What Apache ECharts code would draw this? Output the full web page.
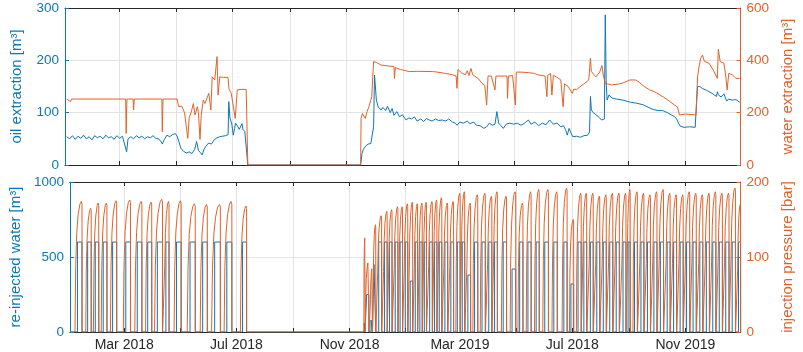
<!DOCTYPE html>
<html>
<head>
<meta charset="utf-8">
<script src="https://cdn.jsdelivr.net/npm/echarts@6/dist/echarts.min.js"></script>
<style>
  html, body { margin: 0; padding: 0; background: #fff; }
  #chart { width: 803px; height: 352px; }
</style>
</head>
<body>
<div id="chart"></div>
<script>
// x values are days counted from 2018-01-01
const tickDays = [59, 120, 181, 243, 304, 365, 424, 485, 546, 608, 669];
const labelDays = [59, 181, 304, 424, 546, 669];
const labelText = ['Mar 2018', 'Jul 2018', 'Nov 2018', 'Mar 2019', 'Jul 2018', 'Nov 2019'];

// top panel: oil extraction [m3] (left axis)
const oilExtraction = [
  [1.8,54],[5,50],[8,56],[11,49],[14,55],[17,51],[20,57],[23,50],[26,54],[29,48],[32,56],[35,52],
  [38,55],[41,50],[44,57],[47,52],[50,54],[53,49],[56,56],[59,51],[62,55],[64,53],[66.5,25],[68,50],
  [71,54],[74,50],[77,56],[80,52],[83,55],[86,50],[89,54],[92,52],[95,56],[98,51],[101,50],[104,44],
  [105,40],[107,48],[110,57],[113,54],[116,58],[119,60],[121,55],[123,44],[125,32],[128,26],[131,23],
  [134,25],[137,22],[140,30],[142,45],[144,28],[146,24],[148,19],[150,30],[152,36],[155,42],[158,40],
  [161,48],[164,52],[167,54],[170,55],[173,56],[176,58],[176.7,121],[178,90],[180,78],[181.6,57],
  [183,70],[184,80],[186.6,73],[188,68],[190,70],[191,79],[192,68],[194,64],[195.5,62],[197.3,0],
  [319,0],[320.5,22],[322,30],[324,35],[327,40],[330,41],[332,44],[333,73],[334,172],[336,124],
  [338,111],[341,105],[343,110],[346,104],[348,112],[351,100],[353,108],[355,95],[358,102],[361,92],
  [364,96],[368,86],[371,90],[374,88],[377,92],[380,84],[384,88],[387,83],[390,89],[393,86],[396,84],
  [400,88],[403,85],[407,86],[411,84],[414,88],[418,82],[421,80],[423,76],[426,82],[430,80],[434,84],
  [437,79],[441,82],[444,76],[448,75],[452,70],[455,73],[458,80],[461,76],[464,78],[466,102],[468,80],
  [470,76],[473,70],[476,78],[480,80],[484,78],[488,80],[492,76],[496,80],[500,86],[503,78],[507,82],
  [511,75],[515,80],[519,77],[523,86],[527,78],[531,80],[535,73],[538,75],[540,68],[542,57],[544,70],
  [546,61],[548,54],[552,55],[556,53],[560,56],[564,57],[566,63],[567,131],[568,105],[570,100],
  [573,96],[577,90],[579,86],[582,88],[583,287],[584,156],[585,124],[587,134],[590,128],[595,126],
  [602,124],[610,120],[617,118],[624,115],[631,109],[635,106],[640,104],[645,104],[650,100],[655,95],
  [658,92],[660,88],[662,80],[664,74],[668,72],[674,73],[680,72],[682,72],[682.6,150],[685,150],
  [688,146],[692,143],[695,140],[699,136],[703,131],[704,140],[705,134],[708,130],[711,136],[714,122],
  [716,126],[720,124],[724,125],[728,120]
];

// top panel: water extraction [m3] (right axis)
const waterExtraction = [
  [1.8,252],[6,242],[7,252],[65.5,252],[66,121],[66.8,252],[73.5,252],[74,210],[74.8,252],[104.5,252],
  [105,127],[105.8,252],[121,252],[122.6,223],[126,225],[129,200],[132.5,102],[134,180],[136.8,210],
  [138.5,235],[140.3,191],[142.8,223],[144,200],[145.7,98],[147,190],[149.2,248],[151,235],[152.7,242],
  [155.2,274],[157.4,210],[158.8,337],[161.6,325],[164.1,414],[165.2,267],[167,337],[170,335],
  [175.9,335],[177,290],[179.4,274],[181.2,267],[183.7,178],[185.9,287],[190,289],[195.5,289],[197.3,0],
  [319,0],[319.5,178],[321,197],[324,178],[326,204],[328,223],[331,261],[333,395],[336,392],[341,382],
  [350,378],[355,376],[355.5,331],[356.5,372],[362,365],[371.5,357],[380,358],[396.4,357],[400,356],
  [410.6,350],[418,345],[422,340],[423,293],[424,365],[428,352],[432,345],[434,360],[436,342],[438,369],
  [440,345],[442,350],[446,330],[450,312],[453,305],[455,229],[456.5,340],[460,340],[464,287],[465,340],
  [474,340],[477,340],[477.5,255],[478.5,340],[483,342],[486,229],[487,355],[492,355],[500,353],
  [506.6,350],[510,345],[518,340],[520,261],[521,343],[524,350],[525.4,267],[527,343],[531,335],
  [535,325],[537.5,223],[539,310],[543,300],[547.4,274],[549,290],[552,288],[555,297],[560,310],
  [565.2,325],[567,408],[568,357],[570,357],[573,337],[577,355],[579.4,380],[581,340],[583,312],
  [590,306],[598,310],[603,315],[609.7,325],[616,325],[620,315],[625,300],[631,287],[636,280],
  [645.2,261],[650,250],[657.7,229],[661,222],[663,191],[670,195],[680.8,191],[682.6,337],[684.5,382],
  [686,408],[687.9,420],[690,396],[695,389],[700,360],[703.9,331],[705,442],[707,395],[711,389],
  [713,340],[714.5,287],[716.3,350],[720,345],[724,331],[728,331]
];

// bottom panel: injection cycles [start day, end day, peak pressure bar, re-injected water m3]
const injectionCycles = [
  [5.5,13.1,174,600],[17.2,23.1,165,600],[25.5,31.3,172,600],[34,40.2,172,600],[44,50.8,175,600],
  [58,65.8,176,600],[70.5,78.2,174,600],[82.2,88.9,173,600],[92,100.6,177,600],[102.5,107.7,174,600],
  [113.2,120.9,175,600],[127.5,136.2,171,600],[141.6,149.3,170,600],[154,163.5,170,600],
  [167.6,176,174,600],[185.3,192,168,600],
  [319.5,320.8,128,60],[321.2,325,94,250],[326.5,328.8,86,80],[329.5,332.4,143,450],
  [334,338.8,155,600],[340.5,344.8,161,600],[346,350.1,163,600],[352,356.5,167,600],[357.5,361.5,167,600],
  [363,367.2,171,600],[368.5,372.5,173,340],[374,377.9,171,600],[379,382.9,172,600],[384,387.5,173,600],
  [389.5,393.9,174,600],[395,398.9,176,600],[400,404.2,179,600],[406,410.6,172,600],[412.5,417,174,600],
  [419.5,424.1,185,600],[425,429.1,187,600],[431,435.5,172,380],[438,443.3,183,600],[446,451.5,185,600],
  [453.5,458.6,181,600],[460,464.6,187,600],[469,474.6,181,600],[478.5,484.5,187,420],[487,492.4,172,600],
  [496,501.3,187,600],[505,510.1,190,600],[514,520.1,190,600],[524,529.7,187,600],[535,540.4,192,600],
  [543,547.5,150,320],[550.5,555.7,185,600],[557,561.7,185,600],[564,568.8,185,600],[571,575.9,181,600],
  [578,583,183,600],[585,590.1,185,600],[592,597.2,185,600],[599.5,604.4,185,600],[605.5,609,190,600],
  [612,616.8,187,600],[619,623.9,185,600],[626,631,183,600],[633,638.1,187,600],[640,645.2,190,600],
  [647.5,652.4,185,600],[654.5,659.4,183,600],[661.5,666.6,183,600],[668.5,673.7,187,600],
  [675.5,680.8,185,600],[683,687.9,183,600],[690,695.1,185,600],[697,702.1,187,600],[704,709.2,185,600],
  [711,716.4,185,600],[718,723.4,192,600],[725.5,729,170,600]
];
// pressure build-up shape inside one cycle (fraction of cycle time -> fraction of peak)
const riseTime = [0, 0.1, 0.25, 0.45, 0.7, 0.9, 1];
const riseShape = [0, 0.5, 0.76, 0.9, 0.98, 1, 0.98];
// injection (re-injected water) is switched on part way into each pressure cycle
const waterOnFrac = 0.35;

const blue = '#0d77b3';
const orange = '#e0622a';
const dark = '#262626';
const font = 'Liberation Sans, Arial, sans-serif';

let injectedWater = [[0, 0]];
let injectionPressure = [[0, 0]];
injectionCycles.forEach(c => {
  const on = c[0] + waterOnFrac * (c[1] - c[0]);
  injectedWater.push([on, 0], [on, c[3]], [c[1], c[3]], [c[1], 0]);
  riseTime.forEach((t, i) => {
    injectionPressure.push([c[0] + t * (c[1] - c[0]), c[2] * riseShape[i]]);
  });
  injectionPressure.push([c[1] + 0.15, 0]);
});

const chart = echarts.init(document.getElementById('chart'), null, { renderer: 'canvas' });

function xAxisFor(grid, pos, withLabels) {
  return {
    type: 'value', gridIndex: grid, position: pos, min: 0, max: 729,
    axisLine: { show: true, onZero: false, lineStyle: { color: dark, width: 1 } },
    axisTick: { show: true, inside: true, length: 4, customValues: tickDays, lineStyle: { color: dark } },
    axisLabel: {
      show: withLabels, customValues: labelDays, color: dark, fontSize: 14, fontFamily: font, margin: 6,
      formatter: v => labelText[labelDays.indexOf(Math.round(v))] || ''
    },
    splitLine: { show: pos === 'bottom', lineStyle: { color: '#e3e3e3', width: 1 } }
  };
}

function yAxisFor(grid, pos, max, interval, color, name, gap, split) {
  return {
    type: 'value', gridIndex: grid, position: pos, min: 0, max: max, interval: interval,
    name: name, nameLocation: 'middle', nameGap: gap,
    nameTextStyle: { color: color, fontSize: 15, fontFamily: font },
    axisLine: { show: true, onZero: false, lineStyle: { color: color, width: 1 } },
    axisTick: { show: true, inside: true, length: 4, lineStyle: { color: color } },
    axisLabel: { color: color, fontSize: 13.5, fontFamily: font, margin: 6, formatter: v => String(v) },
    splitLine: { show: split, lineStyle: { color: '#e3e3e3', width: 1 } }
  };
}

const option = {
  animation: false,
  backgroundColor: '#fff',
  grid: [
    { left: 65, right: 54.4, top: 8, height: 157 },
    { left: 65, right: 54.4, top: 182, height: 150 }
  ],
  xAxis: [
    xAxisFor(0, 'bottom', false),
    xAxisFor(0, 'top', false),
    xAxisFor(1, 'bottom', true),
    xAxisFor(1, 'top', false)
  ],
  yAxis: [
    yAxisFor(0, 'left', 300, 100, blue, 'oil extraction [m³]', 41, true),
    yAxisFor(0, 'right', 600, 200, orange, 'water extraction [m³]', 39, false),
    yAxisFor(1, 'left', 1000, 500, blue, 're-injected water [m³]', 42, true),
    yAxisFor(1, 'right', 200, 100, orange, 'injection pressure [bar]', 35, false)
  ],
  series: [
    { name: 'oil extraction', type: 'line', xAxisIndex: 0, yAxisIndex: 0, data: oilExtraction,
      showSymbol: false, lineStyle: { color: blue, width: 1 } },
    { name: 'water extraction', type: 'line', xAxisIndex: 0, yAxisIndex: 1, data: waterExtraction,
      showSymbol: false, lineStyle: { color: orange, width: 1 } },
    { name: 're-injected water', type: 'line', xAxisIndex: 2, yAxisIndex: 2, data: injectedWater,
      showSymbol: false, lineStyle: { color: blue, width: 1 } },
    { name: 'injection pressure', type: 'line', xAxisIndex: 2, yAxisIndex: 3, data: injectionPressure,
      showSymbol: false, lineStyle: { color: orange, width: 1 } }
  ]
};

chart.setOption(option);
</script>
</body>
</html>
